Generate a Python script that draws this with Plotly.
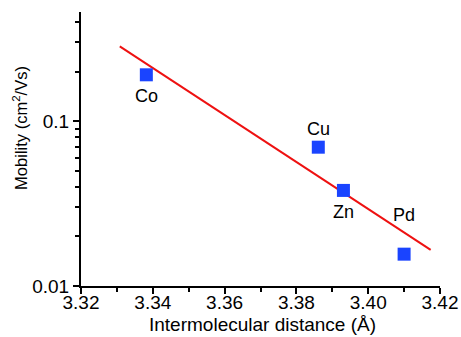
import numpy as np
import plotly.graph_objects as go

metals = ["Co", "Cu", "Zn", "Pd"]
distance = [3.3382, 3.3861, 3.3931, 3.4100]
mobility = [0.191, 0.0695, 0.0380, 0.0156]
label_shift = [-21, 18, -22, 39]

fit_x = [3.3308, 3.4174]
fit_y = [0.284, 0.01655]

x_ticks = [3.32, 3.34, 3.36, 3.38, 3.40, 3.42]
y_ticks = [0.01, 0.1]
y_ticktext = ["0.01", "0.1"]
y_minor = [0.02, 0.03, 0.04, 0.05, 0.06, 0.07, 0.08, 0.09, 0.2, 0.3, 0.4]

FONT = "Liberation Sans, Arial, sans-serif"

fig = go.Figure()
fig.add_trace(go.Scatter(x=fit_x, y=fit_y, mode="lines",
                         line=dict(color="#ee1111", width=2), showlegend=False))
fig.add_trace(go.Scatter(x=distance, y=mobility, mode="markers",
                         marker=dict(symbol="square", size=13, color="#1a44ff",
                                     line=dict(width=0)),
                         showlegend=False))

for m, xv, yv, s in zip(metals, distance, mobility, label_shift):
    fig.add_annotation(x=xv, y=np.log10(yv), text=m, showarrow=False,
                       yshift=s, font=dict(family=FONT, size=18, color="black"))

# axis titles
fig.add_annotation(xref="paper", yref="paper", x=0.5056, y=-0.142,
                   xanchor="center", yanchor="middle", showarrow=False,
                   text="Intermolecular distance (Å)",
                   font=dict(family=FONT, size=19, color="black"))
fig.add_annotation(xref="paper", yref="paper", x=-0.172, y=0.578,
                   xanchor="center", yanchor="middle", showarrow=False, textangle=-90,
                   text="Mobility (cm<sup>2</sup>/Vs)",
                   font=dict(family=FONT, size=16.5, color="black"))

fig.update_layout(
    width=461, height=337,
    margin=dict(l=81, r=21, t=12, b=51, autoexpand=False),
    paper_bgcolor="white", plot_bgcolor="white",
    font=dict(family=FONT, size=18, color="black"),
)
fig.update_xaxes(
    range=[3.32, 3.42], tickvals=x_ticks, ticktext=[f"{v:.2f}" for v in x_ticks],
    showline=True, linecolor="black", linewidth=2, mirror=False,
    ticks="outside", ticklen=6, tickwidth=2, tickcolor="black",
    minor=dict(dtick=0.01, tick0=3.32, ticks="outside", ticklen=4, tickwidth=2, tickcolor="black"),
    showgrid=False, zeroline=False, automargin=False,
    tickfont=dict(size=19), ticklabelstandoff=-8,
)
fig.update_yaxes(
    type="log", range=[-2, -0.338], tickvals=y_ticks, ticktext=y_ticktext,
    showline=True, linecolor="black", linewidth=2, mirror=False,
    ticks="outside", ticklen=6, tickwidth=2, tickcolor="black",
    minor=dict(tickvals=y_minor, ticks="outside", ticklen=4, tickwidth=2, tickcolor="black"),
    showgrid=False, zeroline=False, automargin=False,
    tickfont=dict(size=19),
)

fig.write_html("out.html")
